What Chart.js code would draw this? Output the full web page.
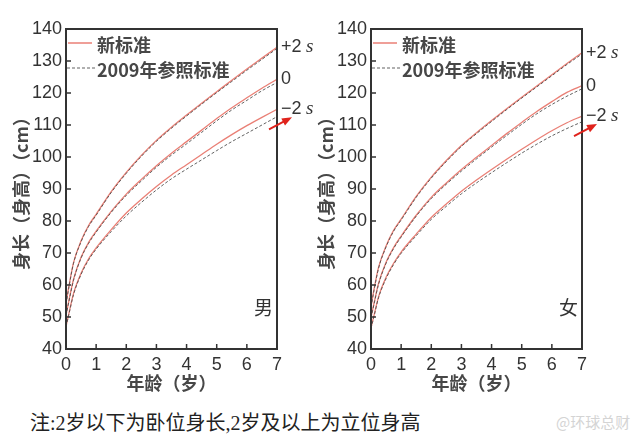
<!DOCTYPE html>
<html>
<head>
<meta charset="utf-8">
<script src="https://cdn.jsdelivr.net/npm/chart.js@4.4.1/dist/chart.umd.min.js"></script>
<style>
  body { margin: 0; background: #fff; width: 640px; height: 444px; position: relative; overflow: hidden; }
  canvas { position: absolute; top: 0; }
  #boys { left: 0; }
  #girls { left: 305px; }
  .note { position: absolute; left: 30px; top: 407px; font: 20px "Liberation Serif", "Noto Sans CJK SC", serif; color: #222; }
  .mark { position: absolute; left: 556px; top: 411px; font: 15px "Noto Sans CJK SC", sans-serif; color: #d4d4d4; }
</style>
</head>
<body>
<canvas id="boys" width="320" height="400"></canvas>
<canvas id="girls" width="320" height="400"></canvas>
<div class="note">注:2岁以下为卧位身长,2岁及以上为立位身高</div>
<div class="mark">@环球总财</div>
<script>
// ages in years
const ages = [0, 0.1, 0.25, 0.5, 0.75, 1, 1.5, 2, 2.5, 3, 3.5, 4, 4.5, 5, 5.5, 6, 6.5, 7]

// boys, new standard
const boysNewP2 = [54.2, 59.8, 67.0, 73.8, 78.6, 82.1, 89.2, 95.2, 100.5, 105.2, 109.3, 113.1, 116.8, 120.4, 124.0, 127.5, 130.9, 134.3]
const boysNewMed = [50.6, 55.3, 61.8, 68.7, 73.3, 76.8, 83.0, 88.4, 93.0, 97.3, 101.2, 104.8, 108.4, 112.0, 115.4, 118.5, 121.5, 124.3]
const boysNewM2 = [47.1, 51.3, 57.4, 63.7, 68.2, 71.6, 77.3, 82.5, 86.8, 90.8, 94.4, 97.6, 100.8, 104.0, 107.0, 109.8, 112.4, 114.9]
// boys, 2009 reference
const boysOldP2 = [54.0, 59.5, 66.8, 73.5, 78.3, 81.8, 88.9, 94.9, 100.2, 104.9, 109.0, 112.8, 116.5, 120.1, 123.6, 127.1, 130.5, 133.9]
const boysOldMed = [50.4, 55.0, 61.5, 68.4, 73.0, 76.5, 82.7, 88.0, 92.5, 96.8, 100.6, 104.1, 107.7, 111.3, 114.7, 117.7, 120.7, 123.3]
const boysOldM2 = [46.9, 51.0, 57.0, 63.3, 67.8, 71.2, 76.7, 81.6, 85.8, 89.7, 93.2, 96.2, 99.1, 102.0, 104.8, 107.4, 110.0, 112.6]

// girls, new standard
const girlsNewP2 = [53.2, 58.6, 65.5, 72.2, 77.1, 80.6, 87.7, 93.7, 98.9, 103.6, 107.6, 111.4, 115.1, 118.7, 122.2, 125.7, 129.2, 132.6]
const girlsNewMed = [49.9, 54.3, 60.5, 67.1, 71.7, 75.3, 81.8, 87.4, 91.9, 96.1, 99.9, 103.6, 107.3, 110.8, 114.2, 117.3, 120.2, 122.3]
const girlsNewM2 = [46.6, 50.5, 56.3, 62.4, 66.8, 70.3, 75.9, 81.1, 85.3, 89.3, 92.8, 96.1, 99.3, 102.4, 105.4, 108.2, 110.7, 112.8]
// girls, 2009 reference
const girlsOldP2 = [53.0, 58.3, 65.2, 71.9, 76.8, 80.3, 87.4, 93.4, 98.6, 103.3, 107.3, 111.1, 114.8, 118.4, 121.9, 125.4, 128.9, 132.2]
const girlsOldMed = [49.7, 54.0, 60.2, 66.8, 71.4, 75.0, 81.5, 87.0, 91.5, 95.6, 99.4, 103.1, 106.7, 110.2, 113.5, 116.4, 119.0, 121.3]
const girlsOldM2 = [46.4, 50.2, 56.0, 62.0, 66.4, 69.9, 75.4, 80.5, 84.6, 88.5, 91.9, 95.1, 98.2, 101.2, 104.0, 106.6, 108.9, 111.0]

const legendNames = ["新标准", "2009年参照标准"]
const endLabels = ["+2", "0", "\u22122"]
const xTicks = [0, 1, 2, 3, 4, 5, 6, 7]
const yTicks = [40, 50, 60, 70, 80, 90, 100, 110, 120, 130, 140]

const NEW_COLOR = "rgba(232,120,110,0.95)"
const OLD_COLOR = "rgba(70,70,70,0.85)"
const INK = "#333"
const SOFT_INK = "#474747"
const CJK = '"Noto Sans CJK SC", sans-serif'

function toPoints(vals){
    return vals.map((v, i) => ({x: ages[i], y: v}))
}

function makeDatasets(newSeries, oldSeries){
    const sets = []
    // dashed first so the solid red line sits on top
    for(const s of oldSeries){
        sets.push({data: toPoints(s), borderColor: OLD_COLOR, borderWidth: 1, borderDash: [3, 2]})
    }
    for(const s of newSeries){
        sets.push({data: toPoints(s), borderColor: NEW_COLOR, borderWidth: 1.3})
    }
    return sets.map(d => Object.assign(d, {showLine: true, pointRadius: 0, cubicInterpolationMode: "monotone", fill: false}))
}

// frame, inner ticks, legend, side labels, arrow
const panelDecor = {
    id: "panelDecor",
    afterDatasetsDraw(chart, args, opts){
        const ctx = chart.ctx
        const {left, right, top, bottom} = chart.chartArea
        const xs = chart.scales.x, ys = chart.scales.y
        ctx.save()

        ctx.strokeStyle = INK
        ctx.lineWidth = 2
        ctx.strokeRect(left, top, right - left, bottom - top)
        ctx.lineWidth = 1.5
        ctx.beginPath()
        for(const t of xTicks.slice(1, -1)){
            const px = xs.getPixelForValue(t)
            ctx.moveTo(px, bottom); ctx.lineTo(px, bottom - 5)
        }
        for(const t of yTicks.slice(1, -1)){
            const py = ys.getPixelForValue(t)
            ctx.moveTo(left, py); ctx.lineTo(left + 5, py)
        }
        ctx.stroke()

        // legend in the top left corner
        ctx.lineWidth = 1.5
        ctx.strokeStyle = NEW_COLOR
        ctx.beginPath(); ctx.moveTo(left + 2, top + 14); ctx.lineTo(left + 26, top + 14); ctx.stroke()
        ctx.strokeStyle = OLD_COLOR
        ctx.lineWidth = 1.2
        ctx.setLineDash([3, 2])
        ctx.beginPath(); ctx.moveTo(left + 1, top + 39); ctx.lineTo(left + 29, top + 39); ctx.stroke()
        ctx.setLineDash([])
        ctx.fillStyle = SOFT_INK
        ctx.font = `bold 18px ${CJK}`
        ctx.textBaseline = "middle"
        ctx.textAlign = "left"
        ctx.fillText(legendNames[0], left + 31, top + 16)
        ctx.fillText(legendNames[1], left + 31, top + 41)

        // sex label
        ctx.fillStyle = INK
        ctx.font = `19px ${CJK}`
        ctx.fillText(opts.sex, right - 23, ys.getPixelForValue(53))

        // end labels +2 s / 0 / -2 s
        const ends = opts.ends
        for(let i = 0; i < ends.length; i++){
            const py = ys.getPixelForValue(ends[i])
            ctx.font = '18px "Liberation Sans", sans-serif'
            ctx.fillText(endLabels[i], right + 4, py)
            if(endLabels[i] !== "0"){
                ctx.font = 'italic 19px "Liberation Serif", serif'
                ctx.fillText("s", right + 29, py)
            }
        }

        // red arrow pointing at the -2 s curve
        const yEnd = ys.getPixelForValue(ends[2])
        const x0 = right - 8, y0 = yEnd + 20, x1 = right + 15, y1 = yEnd + 8
        ctx.strokeStyle = "#e0231c"
        ctx.fillStyle = "#e0231c"
        ctx.lineWidth = 2
        ctx.beginPath(); ctx.moveTo(x0, y0); ctx.lineTo(x1 - 6, y1 + 3); ctx.stroke()
        const ang = Math.atan2(y1 - y0, x1 - x0)
        ctx.beginPath()
        ctx.moveTo(x1, y1)
        ctx.lineTo(x1 - 10 * Math.cos(ang) + 4 * Math.sin(ang), y1 - 10 * Math.sin(ang) - 4 * Math.cos(ang))
        ctx.lineTo(x1 - 10 * Math.cos(ang) - 4 * Math.sin(ang), y1 - 10 * Math.sin(ang) + 4 * Math.cos(ang))
        ctx.closePath()
        ctx.fill()

        ctx.restore()
    }
}

function buildChart(id, newSeries, oldSeries, sex){
    const cfg = {
        type: "scatter",
        data: {datasets: makeDatasets(newSeries, oldSeries)},
        options: {
            responsive: false,
            animation: false,
            layout: {padding: {top: 29, right: 43, bottom: 0, left: 0}},
            plugins: {
                legend: {display: false},
                tooltip: {enabled: false},
                panelDecor: {sex: sex, ends: newSeries.map(s => s[s.length - 1])}
            },
            scales: {
                x: {
                    type: "linear", min: 0, max: 7,
                    grid: {display: false, drawTicks: false},
                    border: {display: false},
                    afterBuildTicks: s => { s.ticks = xTicks.map(v => ({value: v})) },
                    afterFit: s => { s.height = 51 },
                    ticks: {color: INK, padding: 5, font: {family: '"Liberation Sans", sans-serif', size: 18}},
                    title: {display: true, text: "年龄（岁）", color: SOFT_INK, padding: {top: 0, bottom: 6},
                        font: {family: CJK, size: 18, weight: "bold"}}
                },
                y: {
                    min: 40, max: 140,
                    grid: {display: false, drawTicks: false},
                    border: {display: false},
                    afterBuildTicks: s => { s.ticks = yTicks.map(v => ({value: v})) },
                    afterFit: s => { s.width = 66 },
                    ticks: {color: INK, padding: 4, font: {family: '"Liberation Sans", sans-serif', size: 18}},
                    title: {display: true, text: "身长（身高）（cm）", color: SOFT_INK, padding: {top: 10, bottom: 0},
                        font: {family: CJK, size: 18, weight: "bold"}}
                }
            }
        },
        plugins: [panelDecor]
    }
    return new Chart(document.getElementById(id), cfg)
}

buildChart("boys", [boysNewP2, boysNewMed, boysNewM2], [boysOldP2, boysOldMed, boysOldM2], "男")
buildChart("girls", [girlsNewP2, girlsNewMed, girlsNewM2], [girlsOldP2, girlsOldMed, girlsOldM2], "女")
</script>
</body>
</html>
